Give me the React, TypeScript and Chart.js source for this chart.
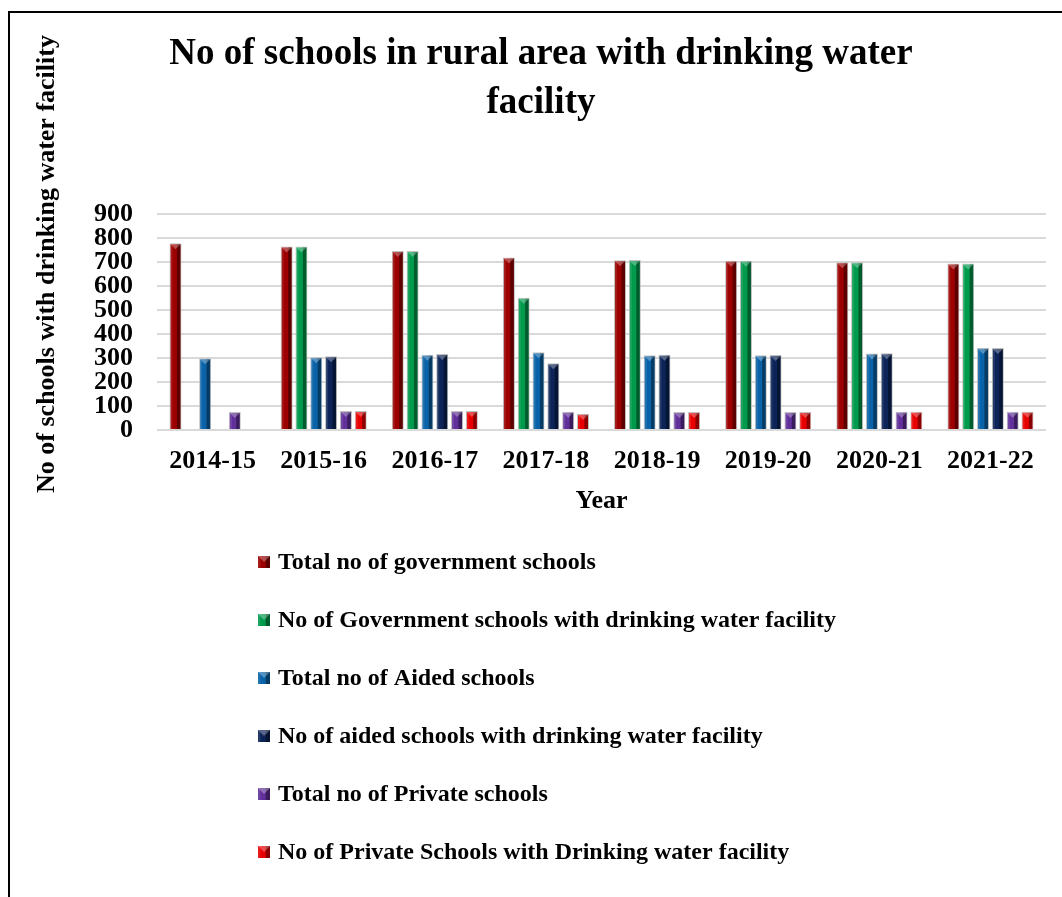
import React, { useEffect, useRef } from 'react';
import { Chart, registerables } from 'chart.js';

Chart.register(...registerables);

const FONT = '"Liberation Serif", "Times New Roman", Times, serif';

const categories = ['2014-15', '2015-16', '2016-17', '2017-18', '2018-19', '2019-20', '2020-21', '2021-22'];

const totalGov = [778, 765, 746, 719, 707, 705, 699, 694];
const govWater = [null, 765, 746, 551, 708, 705, 699, 694];
const totalAided = [299, 303, 314, 324, 312, 311, 319, 342];
const aidedWater = [null, 307, 317, 278, 314, 313, 320, 342];
const totalPrivate = [75, 79, 79, 76, 75, 75, 76, 76];
const privateWater = [null, 79, 79, 67, 75, 75, 76, 76];

const seriesLabels = [
  'Total no of government schools',
  'No of Government schools with drinking water facility',
  'Total no of Aided schools',
  'No of aided schools with drinking water facility',
  'Total no of Private schools',
  'No of Private Schools with Drinking water facility',
];
const seriesColors = ['#9c0000', '#009a4c', '#0a63a8', '#0c2458', '#61309a', '#e80000'];

const chartTitle = ['No of schools in rural area with drinking water', 'facility'];
const xTitle = 'Year';
const yTitle = 'No of schools with drinking water facility';
const yMin = 0;
const yMax = 900;
const yStep = 100;

function bevel(ctx: CanvasRenderingContext2D, left: number, top: number, w: number, h: number) {
  if (h <= 0 || w <= 0) return;
  ctx.save();
  ctx.fillStyle = 'rgba(0,0,0,0.40)';
  ctx.fillRect(left + w * 0.64, top, w * 0.36, h);
  ctx.fillStyle = 'rgba(255,255,255,0.10)';
  ctx.fillRect(left, top, w * 0.2, h);
  const tri = Math.min(w * 0.5, h);
  ctx.beginPath();
  ctx.moveTo(left, top);
  ctx.lineTo(left + w, top);
  ctx.lineTo(left + w / 2, top + tri);
  ctx.closePath();
  ctx.fillStyle = 'rgba(255,255,255,0.30)';
  ctx.fill();
  ctx.restore();
}

export default function App() {
  const ref = useRef<HTMLCanvasElement>(null);

  useEffect(() => {
    if (!ref.current) return;

    const bevelPlugin = {
      id: 'bevelBars',
      afterDatasetsDraw(chart: any) {
        const ctx = chart.ctx as CanvasRenderingContext2D;
        chart.data.datasets.forEach((_ds: any, di: number) => {
          const meta = chart.getDatasetMeta(di);
          meta.data.forEach((el: any, i: number) => {
            const v = chart.data.datasets[di].data[i];
            if (v === null || v === undefined) return;
            const p = el.getProps(['x', 'y', 'base', 'width'], true);
            const left = p.x - p.width / 2 + 1;
            const w = p.width - 2;
            const top = Math.min(p.y, p.base) + 1;
            const h = Math.abs(p.base - p.y) - 1;
            bevel(ctx, left, top, w, h);
          });
        });
      },
    };

    const yTitlePlugin = {
      id: 'yTitleDraw',
      afterDraw(chart: any) {
        const ctx = chart.ctx as CanvasRenderingContext2D;
        ctx.save();
        ctx.translate(44, 251);
        ctx.rotate(-Math.PI / 2);
        ctx.font = `bold 26px ${FONT}`;
        ctx.fillStyle = '#000';
        ctx.textAlign = 'center';
        ctx.textBaseline = 'alphabetic';
        ctx.fillText(yTitle, 0, 0);
        ctx.restore();
      },
    };

    const legendPlugin = {
      id: 'vertLegend',
      afterDraw(chart: any) {
        const ctx = chart.ctx as CanvasRenderingContext2D;
        const xScale = chart.scales.x;
        const startY = xScale.bottom + 45;
        const step = 58;
        const boxLeft = 248;
        const box = 12;
        ctx.save();
        ctx.font = `bold 24px ${FONT}`;
        ctx.textBaseline = 'middle';
        ctx.textAlign = 'left';
        chart.data.datasets.forEach((ds: any, i: number) => {
          const cy = startY + i * step;
          ctx.fillStyle = ds.backgroundColor;
          ctx.fillRect(boxLeft, cy - box / 2, box, box);
          bevel(ctx, boxLeft, cy - box / 2, box, box);
          ctx.fillStyle = '#000';
          ctx.fillText(ds.label, boxLeft + box + 8, cy + 1);
        });
        ctx.restore();
      },
    };

    const seriesData = [totalGov, govWater, totalAided, aidedWater, totalPrivate, privateWater];

    const chart = new Chart(ref.current, {
      type: 'bar',
      data: {
        labels: categories,
        datasets: seriesData.map((d, i) => ({
          label: seriesLabels[i],
          data: d,
          backgroundColor: seriesColors[i],
          borderColor: 'rgba(185,185,185,0.9)',
          borderWidth: 1,
          categoryPercentage: 0.8,
          barPercentage: 0.81,
        })),
      },
      options: {
        responsive: false,
        maintainAspectRatio: false,
        animation: false,
        layout: { padding: { left: 26, right: 16, top: 0, bottom: 380 } },
        plugins: {
          legend: { display: false },
          tooltip: { enabled: false },
          title: {
            display: true,
            text: chartTitle,
            color: '#000',
            font: { family: FONT, size: 37, weight: 'bold', lineHeight: 1.33 },
            padding: { top: 17, bottom: 85.6 },
          },
        },
        scales: {
          x: {
            grid: { display: false, drawTicks: false },
            border: { display: false },
            ticks: { color: '#000', padding: 16, font: { family: FONT, size: 26, weight: 'bold' } },
            title: {
              display: true,
              text: xTitle,
              color: '#000',
              padding: { top: 0, bottom: 0 },
              font: { family: FONT, size: 26, weight: 'bold' },
            },
            afterFit: (scale: any) => { scale.height = 87; },
          },
          y: {
            min: yMin,
            max: yMax,
            grid: { color: '#d9d9d9', lineWidth: 2, drawTicks: false },
            border: { display: false },
            ticks: {
              stepSize: yStep,
              autoSkip: false,
              maxTicksLimit: 20,
              color: '#000',
              padding: 24,
              font: { family: FONT, size: 26, weight: 'bold', lineHeight: 0.8 },
            },
            afterFit: (scale: any) => { scale.width = 121; },
          },
        },
      },
      plugins: [bevelPlugin, yTitlePlugin, legendPlugin],
    });

    return () => chart.destroy();
  }, []);

  return (
    <div
      style={{
        position: 'absolute',
        left: 8,
        top: 11,
        width: 1054,
        height: 886,
        boxSizing: 'border-box',
        borderTop: '2px solid #000',
        borderLeft: '2px solid #000',
        background: '#fff',
        overflow: 'hidden',
      }}
    >
      <canvas ref={ref} width={1052} height={884} style={{ display: 'block', width: 1052, height: 884 }} />
    </div>
  );
}
